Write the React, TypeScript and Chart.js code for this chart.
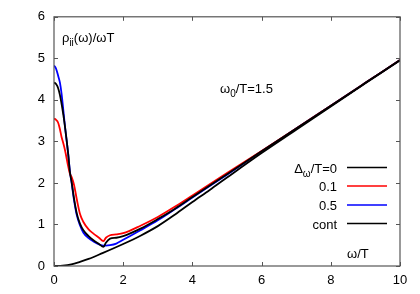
import React, { useEffect, useRef } from "react";
import { Chart, registerables } from "chart.js";

Chart.register(...registerables);

const xs = [0, 0.06, 0.12, 0.17, 0.22, 0.27, 0.32, 0.41, 0.46, 0.51, 0.58, 0.66, 0.75, 0.85, 1.0, 1.14, 1.3, 1.43, 1.5, 1.62, 1.8, 2, 2.5, 3, 3.5, 4, 5, 6, 7, 8, 9, 10];
const blackY = [4.42, 4.38, 4.28, 4.12, 3.9, 3.64, 3.34, 2.7, 2.26, 2.02, 1.62, 1.26, 1.02, 0.86, 0.72, 0.62, 0.53, 0.46, 0.56, 0.66, 0.68, 0.72, 0.9, 1.13, 1.38, 1.66, 2.21, 2.76, 3.31, 3.86, 4.41, 4.96];
const redY = [3.55, 3.52, 3.45, 3.3, 3.1, 2.95, 2.78, 2.4, 2.22, 2.14, 1.95, 1.6, 1.26, 1.06, 0.88, 0.78, 0.68, 0.6, 0.68, 0.74, 0.76, 0.79, 0.97, 1.18, 1.43, 1.7, 2.24, 2.77, 3.31, 3.86, 4.41, 4.96];
const blueY = [4.83, 4.75, 4.58, 4.42, 4.14, 3.75, 3.34, 2.7, 2.28, 2.0, 1.58, 1.22, 0.98, 0.8, 0.67, 0.59, 0.52, 0.49, 0.49, 0.5, 0.54, 0.63, 0.86, 1.1, 1.37, 1.65, 2.2, 2.76, 3.31, 3.86, 4.41, 4.96];
const contX = [0, 0.25, 0.5, 0.75, 1, 1.4, 2, 2.5, 3, 3.5, 4, 4.5, 5, 6, 7, 8, 9, 10];
const contY = [0, 0.01, 0.04, 0.1, 0.17, 0.31, 0.53, 0.73, 0.96, 1.24, 1.54, 1.83, 2.13, 2.72, 3.28, 3.84, 4.4, 4.95];

const legendLabels = ["0", "0.1", "0.5", "cont"];
const legendColors = ["#000000", "#ff0000", "#0000ff", "#000000"];

const FONT = "'Liberation Sans', Arial, sans-serif";

const pts = (x: number[], y: number[]) => x.map((v, i) => ({ x: v, y: y[i] }));

const decoPlugin = {
  id: "deco",
  afterDraw(chart: any) {
    const ctx = chart.ctx;
    const { left, right, top, bottom } = chart.chartArea;
    const xs_ = chart.scales.x;
    const ys_ = chart.scales.y;
    ctx.save();
    ctx.strokeStyle = "#555";
    ctx.lineWidth = 1.2;
    ctx.strokeRect(left, top, right - left, bottom - top);
    ctx.lineWidth = 1;
    for (let v = 0; v <= 10; v += 2) {
      const px = Math.round(xs_.getPixelForValue(v)) + 0.5;
      ctx.beginPath();
      ctx.moveTo(px, bottom);
      ctx.lineTo(px, bottom - 4);
      ctx.moveTo(px, top);
      ctx.lineTo(px, top + 4);
      ctx.stroke();
    }
    for (let v = 0; v <= 6; v += 1) {
      const py = Math.round(ys_.getPixelForValue(v)) + 0.5;
      ctx.beginPath();
      ctx.moveTo(left, py);
      ctx.lineTo(left + 4, py);
      ctx.moveTo(right, py);
      ctx.lineTo(right - 4, py);
      ctx.stroke();
    }
    ctx.fillStyle = "#000";
    ctx.textBaseline = "alphabetic";
    const big = "13px " + FONT;
    const small = "10px " + FONT;
    const drawSeq = (x: number, y: number, parts: [string, boolean][], align: "left" | "right") => {
      let total = 0;
      parts.forEach(([t, sub]) => {
        ctx.font = sub ? small : big;
        total += ctx.measureText(t).width;
      });
      let cx = align === "left" ? x : x - total;
      ctx.textAlign = "left";
      parts.forEach(([t, sub]) => {
        ctx.font = sub ? small : big;
        ctx.fillText(t, cx, sub ? y + 4 : y);
        cx += ctx.measureText(t).width;
      });
    };
    drawSeq(62, 42, [["ρ", false], ["ii", true], ["(ω)/ωT", false]], "left");
    drawSeq(220, 93, [["ω", false], ["0", true], ["/T=1.5", false]], "left");
    drawSeq(347, 258, [["ω/T", false]], "left");
    const rows = [167.5, 186, 205, 223.5];
    rows.forEach((ry, i) => {
      if (i === 0) {
        drawSeq(337, ry + 5, [["Δ", false], ["ω", true], ["/T=0", false]], "right");
      } else {
        drawSeq(337, ry + 5, [[legendLabels[i], false]], "right");
      }
      ctx.strokeStyle = legendColors[i];
      ctx.lineWidth = 1.6;
      ctx.beginPath();
      ctx.moveTo(347, ry);
      ctx.lineTo(387, ry);
      ctx.stroke();
    });
    ctx.restore();
  },
};

export default function App() {
  const ref = useRef<HTMLCanvasElement | null>(null);
  useEffect(() => {
    document.body.style.margin = "0";
    const common = { pointRadius: 0, borderWidth: 1.8, fill: false, cubicInterpolationMode: "monotone" as const };
    const chart = new Chart(ref.current!, {
      type: "line",
      data: {
        datasets: [
          { label: "cont", data: pts(contX, contY), borderColor: "#000", order: 0, ...common },
          { label: "0", data: pts(xs, blackY), borderColor: "#000", order: 1, ...common },
          { label: "0.1", data: pts(xs, redY), borderColor: "#ff0000", order: 2, ...common },
          { label: "0.5", data: pts(xs, blueY), borderColor: "#0000ff", order: 3, ...common },
        ],
      },
      options: {
        animation: false,
        responsive: false,
        layout: { padding: { top: 16, right: 20, left: 0, bottom: 0 } },
        plugins: { legend: { display: false }, tooltip: { enabled: false } },
        scales: {
          x: {
            type: "linear",
            min: 0,
            max: 10,
            grid: { display: false, drawTicks: false },
            border: { display: false },
            ticks: { stepSize: 2, padding: 7, color: "#000", font: { family: FONT, size: 13 }, maxRotation: 0 },
            afterFit: (s: any) => { s.height = 28; },
          },
          y: {
            min: 0,
            max: 6,
            grid: { display: false, drawTicks: false },
            border: { display: false },
            ticks: { stepSize: 1, padding: 9, color: "#000", font: { family: FONT, size: 13 } },
            afterFit: (s: any) => { s.width = 54; },
          },
        },
      },
      plugins: [decoPlugin],
    });
    return () => chart.destroy();
  }, []);
  return <canvas ref={ref} width={420} height={294} style={{ display: "block" }} />;
}
